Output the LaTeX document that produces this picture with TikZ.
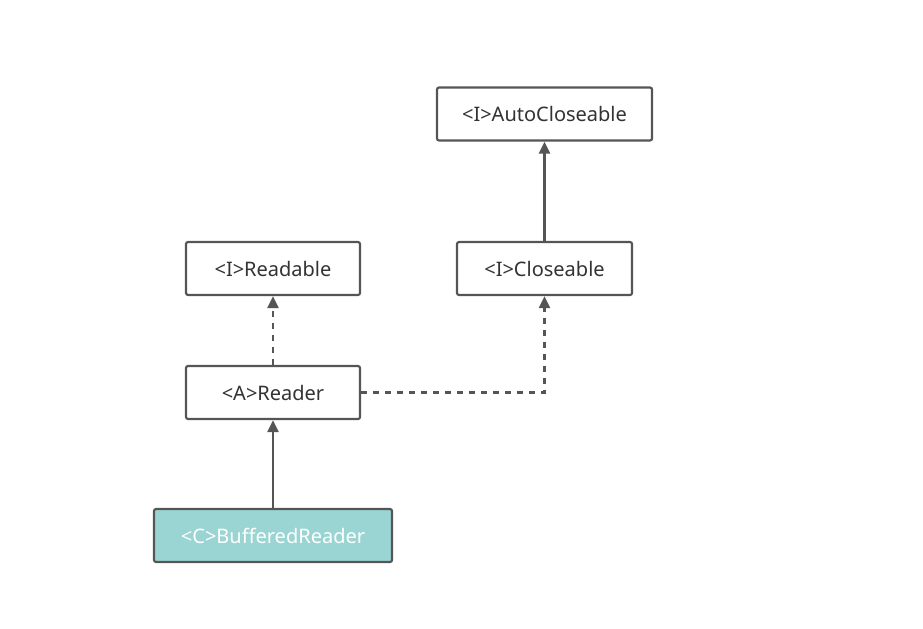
\documentclass[tikz,border=0pt]{standalone}
\usepackage{fontspec}
\setmainfont{Noto Sans}
\usetikzlibrary{arrows.meta}
\definecolor{edge}{HTML}{555555}
\definecolor{txt}{HTML}{333333}
\definecolor{teal}{HTML}{9AD5D3}
\begin{document}
\begin{tikzpicture}[x=0.75pt,y=-0.75pt,
  box/.style={draw=edge,line width=1.6pt,rounded corners=1.5pt,fill=white,text=txt,
    minimum height=53*0.75pt,inner sep=0pt,font=\fontsize{15}{17}\selectfont},
  conn/.style={draw=edge,line width=2.2pt,-{Triangle[length=9pt,width=8pt]}},
  dconn/.style={conn,dash pattern=on 4.5pt off 4.5pt}]
\useasboundingbox (0,0) rectangle (923,628);
\node[box,minimum width=215*0.75pt] (auto) at (544.5,114) {<I>AutoCloseable};
\node[box,minimum width=174*0.75pt] (readable) at (273,268.5) {<I>Readable};
\node[box,minimum width=175*0.75pt] (close) at (544.5,268.5) {<I>Closeable};
\node[box,minimum width=174*0.75pt] (reader) at (273,392.5) {<A>Reader};
\node[box,minimum width=238*0.75pt,fill=teal,text=white] (buf) at (273,535.5) {<C>BufferedReader};
\draw[conn] (buf) -- (reader);
\draw[conn] (close) -- (auto);
\draw[dconn] (reader) -- (readable);
\draw[dconn] (reader.east) -| (close.south);
\end{tikzpicture}
\end{document}
